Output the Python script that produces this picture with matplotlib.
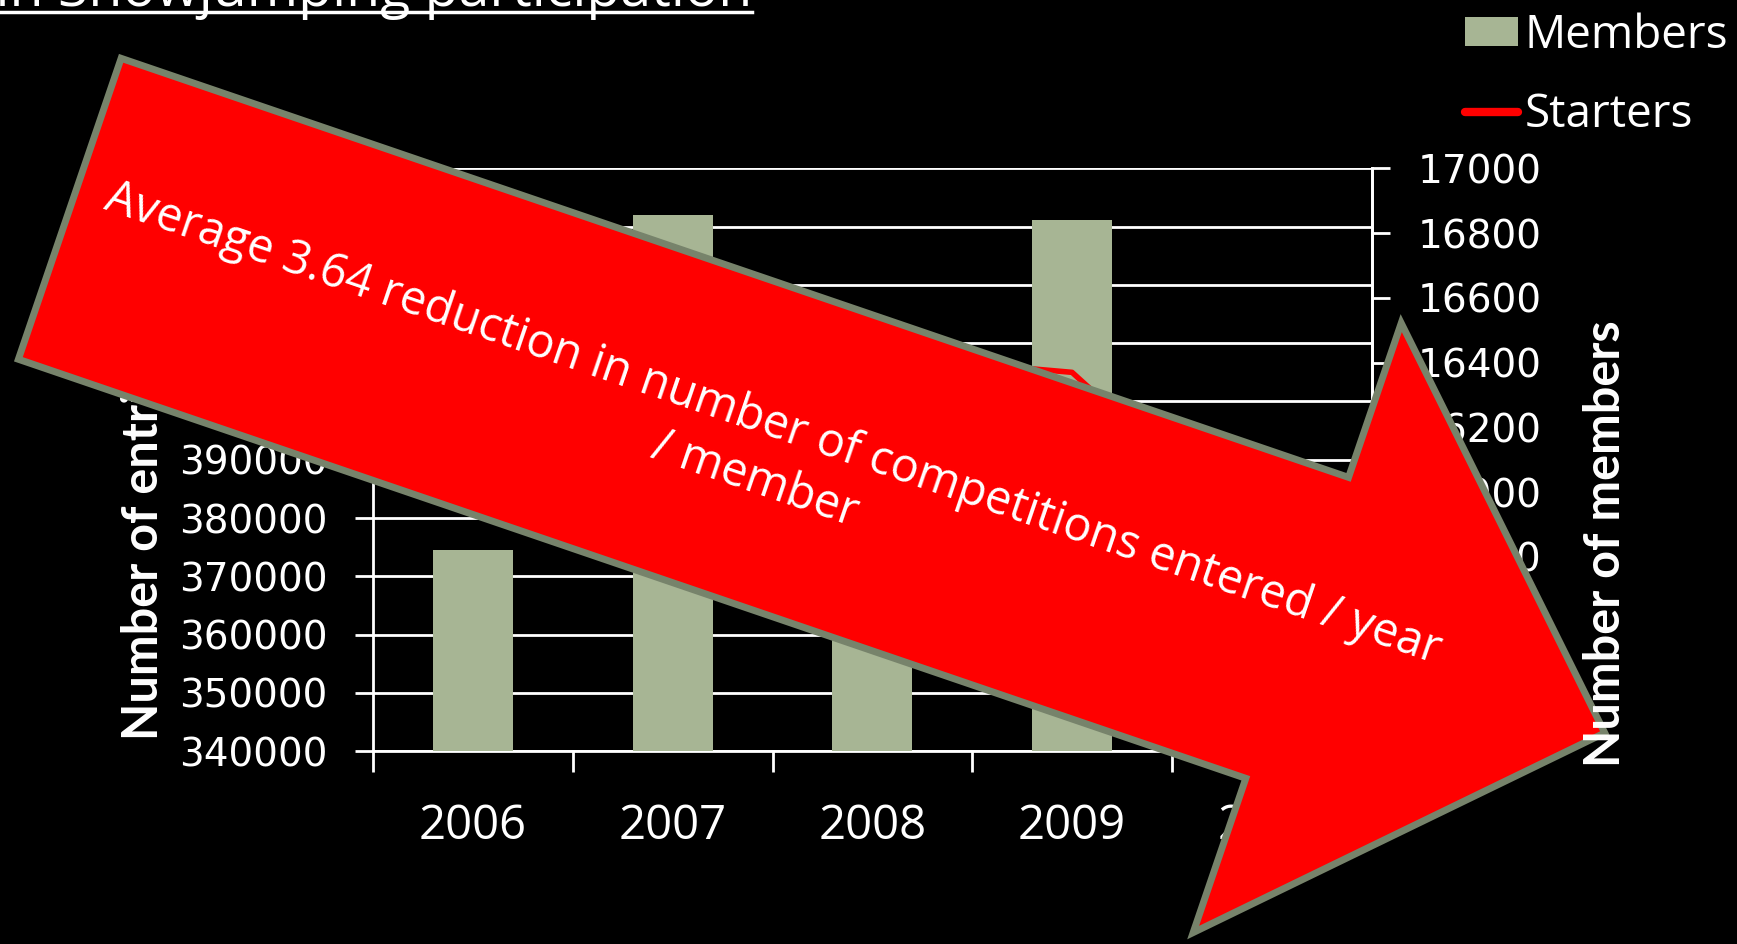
import matplotlib
matplotlib.use('Agg')
import matplotlib.pyplot as plt
from matplotlib.patches import Polygon, Patch
from matplotlib.lines import Line2D
import numpy as np

# ---------------- data ----------------
years = ['2006', '2007', '2008', '2009', '2010']
members = [15820, 16855, 16300, 16840, 16000]          # right axis (bars)
starters = [415000, 418000, 408000, 405000, 374000]     # left axis (line)
left_ticks = list(range(340000, 440001, 10000))
right_ticks = list(range(15200, 17001, 200))

BAR_COLOR = '#A7B594'
LINE_COLOR = '#FF0000'
ARROW_FILL = '#FF0000'
ARROW_EDGE = '#77836B'

W, H = 1737, 944
fig = plt.figure(figsize=(W / 100, H / 100), dpi=100, facecolor='black')


def fx(x):
    return x / W


def fy(y):
    return 1 - y / H


L, R, T, B = 373.3, 1371.5, 168.4, 751.1
ax = fig.add_axes([fx(L), fy(B), fx(R) - fx(L), fy(T) - fy(B)])
ax.set_facecolor('black')
xs = np.arange(len(years))
ax.set_xlim(-0.5, len(years) - 0.5)
ax.set_ylim(left_ticks[0], left_ticks[-1])
ax.set_yticks(left_ticks)
ax.set_yticklabels([str(v) for v in left_ticks])
ax.grid(axis='y', color='white', lw=2)
ax.set_axisbelow(True)
ax.spines['top'].set_visible(False)
for s in ['left', 'bottom', 'right']:
    ax.spines[s].set_color('white')
    ax.spines[s].set_linewidth(2)

ax.set_xticks(xs)
ax.set_xticklabels(years)
ax.set_xticks(np.arange(-0.5, len(years), 1), minor=True)
ax.tick_params(axis='x', which='major', length=0, pad=37, labelsize=34,
               labelcolor='white')
ax.tick_params(axis='x', which='minor', length=15, width=2, color='white',
               direction='out')
for lab in ax.get_xticklabels():
    lab.set_fontfamily('Open Sans')
ax.tick_params(axis='y', which='major', length=13, width=2, color='white',
               labelcolor='white', labelsize=28, pad=20, direction='out')

# bars on secondary (right) axis
ax_bar = ax.twinx()
ax_bar.set_ylim(right_ticks[0], right_ticks[-1])
ax_bar.set_yticks(right_ticks)
ax_bar.set_yticklabels([str(v) for v in right_ticks])
ax_bar.bar(xs, members, width=0.4, color=BAR_COLOR, zorder=2)
for s in ['top', 'left', 'bottom']:
    ax_bar.spines[s].set_visible(False)
ax_bar.spines['right'].set_color('white')
ax_bar.spines['right'].set_linewidth(2)
ax_bar.tick_params(axis='y', length=13, width=2, color='white',
                   labelcolor='white', labelsize=28, pad=20, direction='out')

# line on top (left scale)
ax_line = ax.twinx()
ax_line.set_ylim(left_ticks[0], left_ticks[-1])
ax_line.axis('off')
ax_line.plot(xs, starters, color=LINE_COLOR, lw=4, solid_capstyle='round')

# legend
handles = [Patch(facecolor=BAR_COLOR, edgecolor='none'),
           Line2D([], [], color=LINE_COLOR, lw=6, solid_capstyle='round')]
fig.legend(handles, ['Members', 'Starters'], loc='upper left',
           bbox_to_anchor=(fx(1465), fy(13)), frameon=False,
           prop={'family': 'Open Sans', 'size': 33}, labelcolor='white',
           handlelength=1.15, handleheight=0.6, handletextpad=0.15,
           labelspacing=0.72, borderpad=0, borderaxespad=0)

# axis titles
fig.text(fx(144), fy(740), 'Number of entries', rotation=90, ha='center',
         va='bottom', fontsize=35, family='Lato', weight='bold', color='white',
         zorder=3)
fig.text(fx(1606), fy(544), 'Number of members', rotation=90, ha='center',
         va='center', fontsize=35, family='Lato', weight='bold', color='white',
         zorder=12)

# title (mostly cut off at the top)
fig.text(fx(752), fy(6), 'Decline in Showjumping participation', ha='right',
         va='baseline', fontsize=40, family='Open Sans', color='white')
fig.add_artist(Line2D([0, fx(752)], [fy(12), fy(12)],
                      transform=fig.transFigure, color='white', lw=2.5))

# big arrow annotation
ang = np.deg2rad(18.85)
cx, cy = 69.75, 208.8
shaft_len, shaft_w, head_len, head_w = 1297, 318, 325, 644
u = np.array([np.cos(ang), np.sin(ang)])
n = np.array([-np.sin(ang), np.cos(ang)])
c = np.array([cx, cy])
pts = [c - n * shaft_w / 2,
       c + u * shaft_len - n * shaft_w / 2,
       c + u * shaft_len - n * head_w / 2,
       c + u * (shaft_len + head_len),
       c + u * shaft_len + n * head_w / 2,
       c + u * shaft_len + n * shaft_w / 2,
       c + n * shaft_w / 2]
verts = [(fx(p[0]), fy(p[1])) for p in pts]
fig.add_artist(Polygon(verts, closed=True, transform=fig.transFigure,
                       facecolor=ARROW_FILL, edgecolor=ARROW_EDGE, lw=5,
                       joinstyle='miter', zorder=10))
fig.text(fx(764), fy(452),
         'Average 3.64 reduction in number of competitions entered / year\n/ member',
         rotation=-18.85, rotation_mode='anchor', ha='center', va='center',
         multialignment='center', fontsize=33.5, family='Open Sans',
         color='white', linespacing=1.3, zorder=11)

fig.savefig('out.png', dpi=100, facecolor='black')
